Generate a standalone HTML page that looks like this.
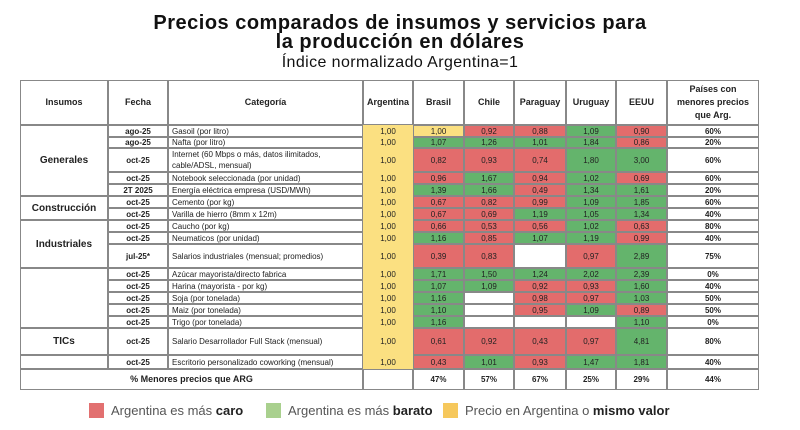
<!DOCTYPE html>
<html><head><meta charset="utf-8">
<style>
body{margin:0;width:800px;height:430px;background:#fff;font-family:"Liberation Sans",sans-serif;overflow:hidden;position:relative}
.t{position:absolute;left:0;width:800px;text-align:center;color:#111}
.c{position:absolute;box-sizing:border-box;display:flex;align-items:center;justify-content:center;font-size:8px;color:#222;text-align:center;line-height:11px}
.l{justify-content:flex-start;text-align:left;padding-left:3px}
.b{font-weight:bold}
.lg{position:absolute;top:403px;font-size:13px;color:#555;display:flex;align-items:center;white-space:nowrap}
.sw{width:15px;height:15px;margin-right:7px;flex:none}
</style></head><body>
<div class="t" style="top:14px;font-size:20px;font-weight:bold;line-height:19px;letter-spacing:0.5px">Precios comparados de insumos y servicios para<br>la producción en dólares</div>
<div class="t" style="top:54px;font-size:16px;letter-spacing:0.4px">Índice normalizado Argentina=1</div>
<div id="tbl"></div>
<div class="lg" style="left:89px"><div class="sw" style="background:#e27070"></div>Argentina es más&nbsp;<b style="color:#222">caro</b></div>
<div class="lg" style="left:266px"><div class="sw" style="background:#a9d08e"></div>Argentina es más&nbsp;<b style="color:#222">barato</b></div>
<div class="lg" style="left:443px"><div class="sw" style="background:#f6c85c"></div>Precio en Argentina o&nbsp;<b style="color:#222">mismo valor</b></div>
<script>
const fechas=["ago-25","ago-25","oct-25","oct-25","2T 2025","oct-25","oct-25","oct-25","oct-25","jul-25*","oct-25","oct-25","oct-25","oct-25","oct-25","oct-25","oct-25"];
const categorias=["Gasoil (por litro)","Nafta (por litro)","Internet (60 Mbps o más, datos ilimitados, cable/ADSL, mensual)","Notebook seleccionada (por unidad)","Energía eléctrica empresa (USD/MWh)","Cemento (por kg)","Varilla de hierro (8mm x 12m)","Caucho (por kg)","Neumaticos (por unidad)","Salarios industriales (mensual; promedios)","Azúcar mayorista/directo fabrica","Harina (mayorista - por kg)","Soja (por tonelada)","Maiz (por tonelada)","Trigo (por tonelada)","Salario Desarrollador Full Stack (mensual)","Escritorio personalizado coworking (mensual)"];
const paises=["Argentina","Brasil","Chile","Paraguay","Uruguay","EEUU"];
const brasil=[1.00,1.07,0.82,0.96,1.39,0.67,0.67,0.66,1.16,0.39,1.71,1.07,1.16,1.10,1.16,0.61,0.43];
const chile=[0.92,1.26,0.93,1.67,1.66,0.82,0.69,0.53,0.85,0.83,1.50,1.09,null,null,null,0.92,1.01];
const paraguay=[0.88,1.01,0.74,0.94,0.49,0.99,1.19,0.56,1.07,null,1.24,0.92,0.98,0.95,null,0.43,0.93];
const uruguay=[1.09,1.84,1.80,1.02,1.34,1.09,1.05,1.02,1.19,0.97,2.02,0.93,0.97,1.09,null,0.97,1.47];
const eeuu=[0.90,0.86,3.00,0.69,1.61,1.85,1.34,0.63,0.99,2.89,2.39,1.60,1.03,0.89,1.10,4.81,1.81];
const pctRow=["60%","20%","60%","60%","20%","60%","40%","80%","40%","75%","0%","40%","50%","50%","0%","80%","40%"];
const pctPais=["47%","57%","67%","25%","29%","44%"];
const grupos=[["Generales",0,5],["Construcción",5,7],["Industriales",7,10],["",10,15],["TICs",15,16],["",16,17]];
const series=[brasil,chile,paraguay,uruguay,eeuu];
const colX=[20,108,168,363,413,464,514,566,616,667,759];
const rowY=[125,137,148,172,184,196,208,220,232,244,268,280,292,304,316,328,355,369];
const T=document.getElementById('tbl');
function cell(x,y,w,h,txt,cls,bg,bd){const d=document.createElement('div');d.className='c '+(cls||'');d.style.left=x+'px';d.style.top=y+'px';d.style.width=w+'px';d.style.height=h+'px';if(bg)d.style.background=bg;d.style.border=bd||'0.5px solid #888';d.innerHTML=txt;T.appendChild(d);return d;}
const RED='#e36c6c',GRN='#64b46c',YEL='#fbe081';
const hdr=["Insumos","Fecha","Categoría"].concat(paises,["Países con<br>menores precios<br>que Arg."]);
hdr.forEach((h,i)=>{const d=cell(colX[i],80,colX[i+1]-colX[i],45,h,'b',null);d.style.fontSize='9px';d.style.lineHeight='13px';

});
grupos.forEach(g=>{const d=cell(colX[0],rowY[g[1]],colX[1]-colX[0],rowY[g[2]]-rowY[g[1]],g[0],'b',null);d.style.fontSize='10px';

});
fechas.forEach((f,r)=>{const y=rowY[r],h=rowY[r+1]-y;
let d=cell(colX[1],y,colX[2]-colX[1],h,f,'b');


d=cell(colX[2],y,colX[3]-colX[2],h,categorias[r],'l');


d=cell(colX[3],y,colX[4]-colX[3],h,'1,00','',YEL,'0.5px solid #fbe081');


series.forEach((s,i)=>{const v=s[r];const bg=v==null?null:(v<1?RED:(v>1?GRN:YEL));
const e=cell(colX[4+i],y,colX[5+i]-colX[4+i],h,v==null?'':v.toFixed(2).replace('.',','),'',bg,'0.5px solid #888');

});
d=cell(colX[9],y,colX[10]-colX[9],h,pctRow[r],'b');

});
let d=cell(colX[0],rowY[17],colX[3]-colX[0],21,'% Menores precios que ARG','b');d.style.fontSize='9px';


d=cell(colX[3],rowY[17],colX[4]-colX[3],21,'','');


pctPais.forEach((p,i)=>{const e=cell(colX[4+i],rowY[17],colX[5+i]-colX[4+i],21,p,'b');

});
</script>
</body></html>
